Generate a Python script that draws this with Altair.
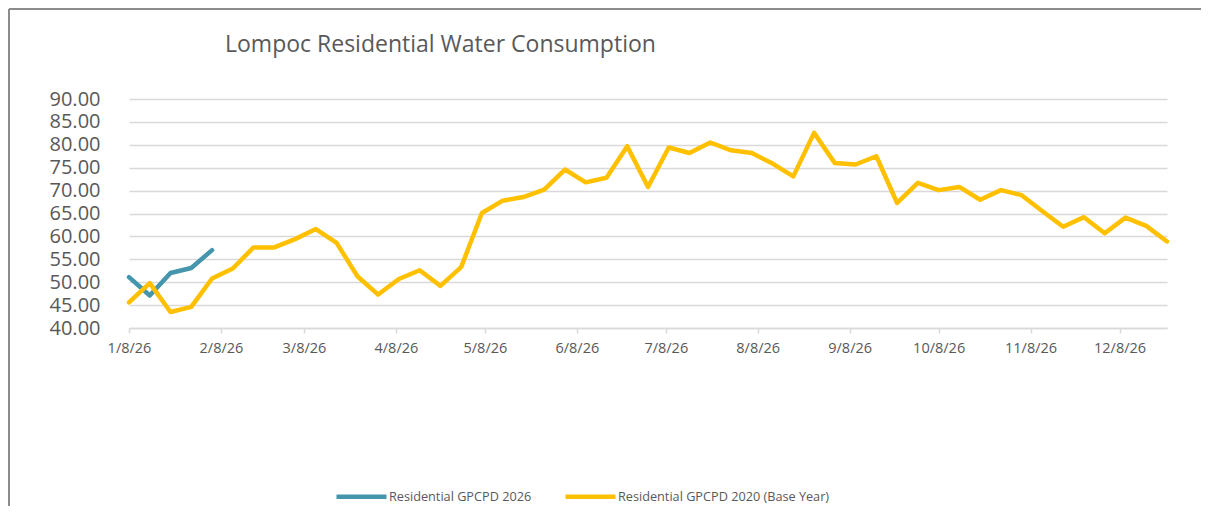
import altair as alt
import pandas as pd

# ---- data ----
title_text = "Lompoc Residential Water Consumption"
series_names = ["Residential GPCPD 2026", "Residential GPCPD 2020 (Base Year)"]
series_colors = ["#4596AD", "#FFC000"]

start_date = "2026-01-08"
base_2020 = [45.6, 49.8, 43.5, 44.6, 50.8, 53.0, 57.6, 57.6, 59.4, 61.6,
             58.6, 51.3, 47.3, 50.7, 52.6, 49.2, 53.3, 65.1, 67.8, 68.6,
             70.2, 74.6, 71.8, 72.8, 79.7, 70.8, 79.4, 78.2, 80.5, 78.8,
             78.2, 75.9, 73.1, 82.6, 76.0, 75.7, 77.5, 67.3, 71.7, 70.1,
             70.8, 68.0, 70.1, 69.0, 65.5, 62.1, 64.2, 60.7, 64.1, 62.3, 58.9]
res_2026 = [51.1, 47.1, 52.0, 53.1, 57.0]
tick_months = list(range(1, 13))

dates_base = pd.date_range(start_date, periods=len(base_2020), freq="7D")
dates_2026 = pd.date_range(start_date, periods=len(res_2026), freq="7D")

df = pd.concat([
    pd.DataFrame({"date": dates_2026.strftime("%Y-%m-%dT00:00:00"),
                  "value": res_2026, "series": series_names[0]}),
    pd.DataFrame({"date": dates_base.strftime("%Y-%m-%dT00:00:00"),
                  "value": base_2020, "series": series_names[1]}),
])

FONT = "Open Sans"
grey_text = "#595959"
grid_col = "#D9D9D9"

x_enc = alt.X(
    "date:T",
    scale=alt.Scale(domain=[alt.DateTime(year=2026, month=1, date=8),
                            alt.DateTime(year=2026, month=12, date=24)]),
    axis=alt.Axis(
        title=None,
        values=[alt.DateTime(year=2026, month=m, date=8) for m in tick_months],
        format="%-m/%-d/%y",
        grid=False, labelFlush=False, labelOverlap=False,
        domainColor=grid_col, domainWidth=1.5,
        tickColor=grid_col, tickSize=5, tickWidth=1.5,
        labelFontSize=14.5, labelColor=grey_text, labelPadding=8,
    ),
)
y_enc = alt.Y(
    "value:Q",
    scale=alt.Scale(domain=[40, 90], nice=False, zero=False),
    axis=alt.Axis(
        title=None, values=list(range(40, 95, 5)), format=".2f",
        domain=False, ticks=False, gridColor=grid_col, gridWidth=1.5,
        labelFontSize=20, labelColor=grey_text, labelPadding=29,
        labelOverlap=False,
    ),
)

lines = alt.Chart(df).mark_line(strokeWidth=4.5, strokeCap="round", strokeJoin="round").encode(
    x=x_enc,
    y=y_enc,
    color=alt.Color(
        "series:N",
        scale=alt.Scale(domain=series_names, range=series_colors),
        sort=series_names,
        legend=alt.Legend(
            title=None, orient="none", legendX=205, legendY=370,
            direction="horizontal", symbolType="stroke", symbolSize=2500,
            symbolStrokeWidth=4.5, labelFontSize=12.7, labelColor=grey_text,
            labelOffset=0, labelLimit=0, columnPadding=24, padding=0,
        ),
    ),
    order=alt.Order("date:T"),
)

one = pd.DataFrame({"k": [0]})
title_mark = alt.Chart(one).mark_text(
    text=title_text, font=FONT, fontSize=23, color=grey_text,
    align="left", baseline="alphabetic",
).encode(x=alt.value(96), y=alt.value(-47.5))

border = alt.Chart(one).mark_rule(color="#8C8C8C", strokeWidth=2).encode(
    x=alt.value(-120), y=alt.value(-90), y2=alt.value(407)
) + alt.Chart(one).mark_rule(color="#8C8C8C", strokeWidth=2).encode(
    x=alt.value(-120), x2=alt.value(1072), y=alt.value(-90)
)

chart = alt.layer(lines, title_mark, border).properties(
    width=1038, height=229,
    autosize=alt.AutoSizeParams(type="none"),
    padding={"left": 121, "top": 91, "right": 34, "bottom": 178},
).configure(font=FONT).configure_view(stroke=None)

chart.save("out.html", embed_options={"renderer": "svg", "actions": False})
